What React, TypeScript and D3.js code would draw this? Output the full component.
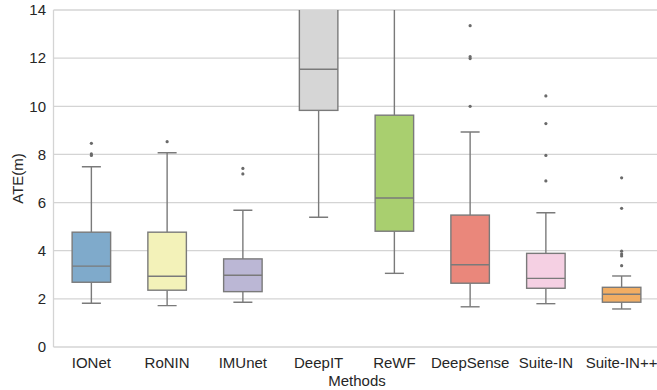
import React from "react";
import * as d3 from "d3";

const methods = ["IONet", "RoNIN", "IMUnet", "DeepIT", "ReWF", "DeepSense", "Suite-IN", "Suite-IN++"];
const whiskerLow = [1.82, 1.72, 1.86, 5.39, 3.06, 1.67, 1.8, 1.58];
const q1 = [2.69, 2.36, 2.3, 9.83, 4.81, 2.65, 2.44, 1.86];
const medians = [3.36, 2.94, 2.98, 11.54, 6.19, 3.42, 2.85, 2.19];
const q3 = [4.77, 4.77, 3.66, 14.6, 9.63, 5.48, 3.89, 2.48];
const whiskerHigh = [7.49, 8.07, 5.68, 19.0, 16.5, 8.93, 5.58, 2.95];
const outliers: number[][] = [
  [8.46, 8.02, 7.96],
  [8.53],
  [7.42, 7.19],
  [],
  [],
  [13.35, 12.06, 11.98, 10.0],
  [10.43, 9.28, 7.96, 6.9],
  [7.03, 5.76, 3.98, 3.86, 3.78, 3.38],
];
const colors = ["#7faacb", "#f3f2b9", "#bbb7d5", "#d6d6d6", "#a9cf6f", "#ea877b", "#f5d0e3", "#f1ad63"];
const yTicks = [0, 2, 4, 6, 8, 10, 12, 14];

export default function App() {
  const W = 657, H = 390;
  const left = 53.5, right = 659.5, top = 10, bottom = 347;
  const x = d3.scaleBand<string>().domain(methods).range([left, right]).padding(0);
  const y = d3.scaleLinear().domain([0, 14]).range([bottom, top]);
  const boxW = 38.5;
  const capW = 19;
  const edge = "#7a7a7a";
  const font = "Liberation Sans, Arial, sans-serif";
  return (
    <svg width={W} height={H} style={{ position: "absolute", left: 0, top: 0 }} fontFamily={font}>
      <defs>
        <clipPath id="plot">
          <rect x={left} y={top} width={right - left} height={bottom - top} />
        </clipPath>
      </defs>
      <rect x={0} y={0} width={W} height={H} fill="#fff" />
      {yTicks.map((t) => (
        <g key={t}>
          <line x1={left} x2={W} y1={y(t)} y2={y(t)} stroke="#d4d4d4" strokeWidth={1.3} />
          <text x={46} y={y(t)} dy="0.35em" textAnchor="end" fontSize={15} fill="#262626">
            {t}
          </text>
        </g>
      ))}
      <line x1={left} x2={left} y1={top} y2={bottom} stroke="#d4d4d4" strokeWidth={1.3} />
      <g clipPath="url(#plot)">
        {methods.map((m, i) => {
          const cx = (x(m) as number) + x.bandwidth() / 2;
          return (
            <g key={m}>
              <line x1={cx} x2={cx} y1={y(q3[i])} y2={y(whiskerHigh[i])} stroke={edge} strokeWidth={1.4} />
              <line x1={cx} x2={cx} y1={y(q1[i])} y2={y(whiskerLow[i])} stroke={edge} strokeWidth={1.4} />
              <line x1={cx - capW / 2} x2={cx + capW / 2} y1={y(whiskerHigh[i])} y2={y(whiskerHigh[i])} stroke={edge} strokeWidth={1.4} />
              <line x1={cx - capW / 2} x2={cx + capW / 2} y1={y(whiskerLow[i])} y2={y(whiskerLow[i])} stroke={edge} strokeWidth={1.4} />
              <rect
                x={cx - boxW / 2}
                y={y(q3[i])}
                width={boxW}
                height={y(q1[i]) - y(q3[i])}
                fill={colors[i]}
                stroke={edge}
                strokeWidth={1.4}
              />
              <line x1={cx - boxW / 2} x2={cx + boxW / 2} y1={y(medians[i])} y2={y(medians[i])} stroke={edge} strokeWidth={1.4} />
              {outliers[i].map((o, j) => (
                <circle key={j} cx={cx} cy={y(o)} r={1.6} fill="#6a6a6a" />
              ))}
            </g>
          );
        })}
      </g>
      {methods.map((m) => (
        <text key={m} x={(x(m) as number) + x.bandwidth() / 2} y={368} textAnchor="middle" fontSize={15} fill="#262626">
          {m}
        </text>
      ))}
      <text x={357} y={386} textAnchor="middle" fontSize={15} fill="#262626">
        Methods
      </text>
      <text transform={`translate(23,${(top + bottom) / 2}) rotate(-90)`} textAnchor="middle" fontSize={15} fill="#262626">
        ATE(m)
      </text>
    </svg>
  );
}
